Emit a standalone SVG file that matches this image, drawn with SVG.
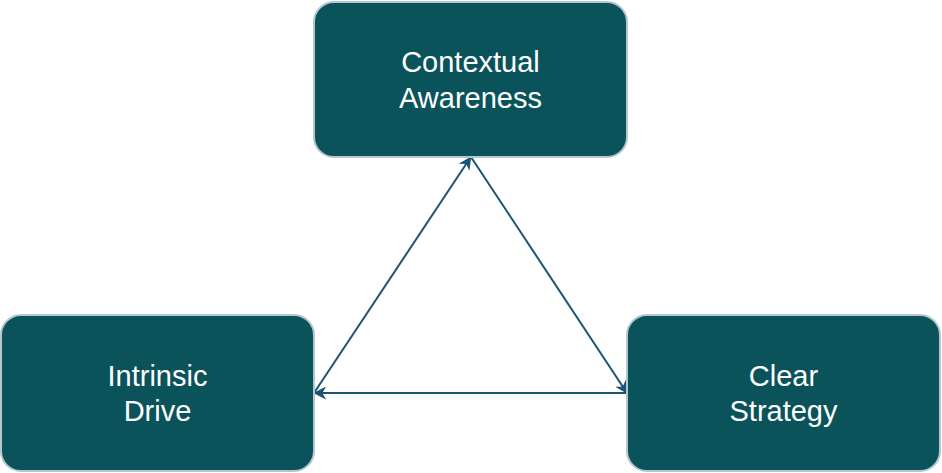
<svg xmlns="http://www.w3.org/2000/svg" width="942" height="473" viewBox="0 0 942 473">
<style>
.box{fill:#0b535a;stroke:#b4c6d0;stroke-width:2}
.lbl{fill:#ffffff;font-family:"Liberation Sans",Arial,sans-serif;font-size:29px;text-anchor:middle}
.edge{stroke:#1b5473;stroke-width:2;fill:none;marker-end:url(#ah)}
</style>
<defs>
<marker id="ah" viewBox="0 0 10 10" refX="9" refY="5" markerWidth="13" markerHeight="13" markerUnits="userSpaceOnUse" orient="auto">
<path d="M0,0 L10,5 L0,10 L3,5 Z" fill="#1b5473"/>
</marker>
</defs>
<rect width="942" height="473" fill="#ffffff"/>
<g id="connectors">
<line class="edge" x1="314" y1="393" x2="470.5" y2="157.5"/>
<line class="edge" x1="471" y1="157" x2="627" y2="393"/>
<line class="edge" x1="627" y1="393" x2="314.5" y2="393"/>
</g>
<g id="contextual-awareness">
<rect class="box" x="314" y="2" width="313" height="155" rx="20" ry="20"/>
<text class="lbl" x="470.5" y="72">Contextual</text>
<text class="lbl" x="470.5" y="108">Awareness</text>
</g>
<g id="intrinsic-drive">
<rect class="box" x="1" y="315" width="313" height="156" rx="20" ry="20"/>
<text class="lbl" x="157.5" y="386">Intrinsic</text>
<text class="lbl" x="157.5" y="421">Drive</text>
</g>
<g id="clear-strategy">
<rect class="box" x="627" y="315" width="313" height="156" rx="20" ry="20"/>
<text class="lbl" x="783.5" y="386">Clear</text>
<text class="lbl" x="783.5" y="421">Strategy</text>
</g>
</svg>
